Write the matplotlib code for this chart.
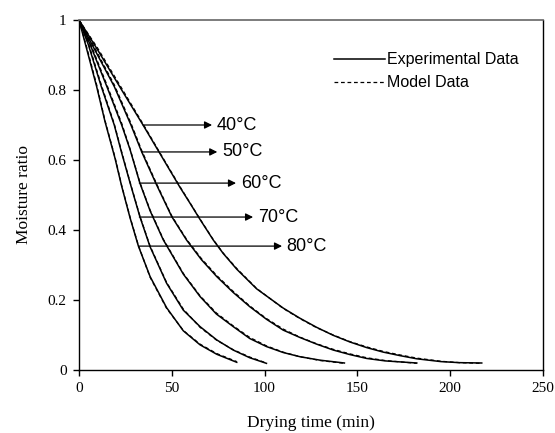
import matplotlib
matplotlib.use("Agg")
import matplotlib.pyplot as plt
from matplotlib.lines import Line2D

# drying curves (time in min, moisture ratio)
t40 = [0, 10, 23, 34.5, 45, 54.4, 60, 65, 72.4, 77.7, 85, 95.7, 110, 119, 128, 137, 146, 155, 164, 173, 182, 195, 205, 217]
mr40_exp = [1.0, 0.915, 0.80, 0.70, 0.606, 0.522, 0.475, 0.432, 0.371, 0.333, 0.288, 0.232, 0.177, 0.148, 0.122, 0.099, 0.08, 0.064, 0.051, 0.041, 0.032, 0.024, 0.021, 0.02]
mr40_mod = [1.0, 0.92, 0.805, 0.703, 0.608, 0.524, 0.476, 0.433, 0.372, 0.334, 0.29, 0.233, 0.176, 0.147, 0.121, 0.10, 0.081, 0.066, 0.053, 0.043, 0.034, 0.025, 0.021, 0.019]

t50 = [0, 7, 19, 28, 33.8, 41.8, 50, 58, 66, 74.2, 83, 92, 101, 110, 119, 128, 137, 146, 155, 165, 182]
mr50_exp = [1.0, 0.93, 0.81, 0.70, 0.623, 0.529, 0.438, 0.371, 0.315, 0.267, 0.222, 0.181, 0.145, 0.114, 0.093, 0.074, 0.057, 0.044, 0.033, 0.026, 0.02]
mr50_mod = [1.0, 0.935, 0.815, 0.705, 0.627, 0.532, 0.44, 0.373, 0.318, 0.27, 0.225, 0.183, 0.147, 0.117, 0.094, 0.075, 0.059, 0.046, 0.035, 0.027, 0.019]

t60 = [0, 6, 15, 23, 27.5, 32.8, 38.3, 45.4, 56.2, 65.2, 74, 83.1, 92, 101, 110, 119, 130, 143]
mr60_exp = [1.0, 0.93, 0.81, 0.70, 0.63, 0.534, 0.455, 0.372, 0.274, 0.21, 0.16, 0.124, 0.09, 0.067, 0.05, 0.038, 0.028, 0.02]
mr60_mod = [1.0, 0.935, 0.815, 0.705, 0.632, 0.536, 0.457, 0.374, 0.276, 0.212, 0.163, 0.126, 0.093, 0.069, 0.051, 0.038, 0.027, 0.019]

t70 = [0, 5, 12, 19, 23, 27.5, 32.8, 38.3, 47.2, 56.2, 65.2, 74.2, 83.1, 92, 101]
mr70_exp = [1.0, 0.93, 0.81, 0.70, 0.62, 0.535, 0.438, 0.352, 0.248, 0.171, 0.124, 0.086, 0.057, 0.035, 0.019]
mr70_mod = [1.0, 0.935, 0.815, 0.703, 0.623, 0.537, 0.44, 0.354, 0.25, 0.174, 0.122, 0.085, 0.058, 0.037, 0.02]

t80 = [0, 4, 9.5, 14, 19.4, 23, 27.5, 32, 38.3, 47.2, 56.2, 65.2, 74.2, 85]
mr80_exp = [1.0, 0.92, 0.81, 0.71, 0.605, 0.525, 0.435, 0.354, 0.267, 0.178, 0.112, 0.072, 0.045, 0.022]
mr80_mod = [1.0, 0.925, 0.815, 0.713, 0.608, 0.527, 0.437, 0.356, 0.265, 0.176, 0.113, 0.074, 0.047, 0.024]

labels = ["40°C", "50°C", "60°C", "70°C", "80°C"]
arrow_y = [0.70, 0.623, 0.534, 0.437, 0.354]
arrow_x0 = [34.5, 33.8, 32.5, 32.5, 32.5]
arrow_x1 = [71.7, 74.5, 84.6, 93.8, 109.4]

times = [t40, t50, t60, t70, t80]
exp_data = [mr40_exp, mr50_exp, mr60_exp, mr70_exp, mr80_exp]
mod_data = [mr40_mod, mr50_mod, mr60_mod, mr70_mod, mr80_mod]

serif = "Liberation Serif"
sans = "Liberation Sans"

fig = plt.figure(figsize=(5.55, 4.33), dpi=100)
ax = fig.add_axes([79 / 555, 63 / 433, 464 / 555, 350 / 433])

for t, e, m in zip(times, exp_data, mod_data):
    ax.plot(t, m, color="black", lw=0.9, ls=(0, (3, 2.2)))
    ax.plot(t, e, color="black", lw=1.1)

for lab, y, x0, x1 in zip(labels, arrow_y, arrow_x0, arrow_x1):
    ax.annotate("", xy=(x1, y), xytext=(x0, y),
                arrowprops=dict(arrowstyle="-|>", color="black", lw=0.9,
                                mutation_scale=11, shrinkA=0, shrinkB=0))
    ax.text(x1 + 2.5, y, lab, va="center", ha="left", fontsize=13,
            family=sans)

handles = [Line2D([], [], color="black", lw=1.1),
           Line2D([], [], color="black", lw=0.9, ls=(0, (3, 2.2)))]
ax.legend(handles, ["Experimental Data", "Model Data"], frameon=False,
          loc="upper left", bbox_to_anchor=(0.533, 0.93), borderpad=0,
          handlelength=3.2, handletextpad=0.12, labelspacing=0.5,
          prop={"family": sans, "size": 11.5})

ax.set_xlim(0, 250)
ax.set_ylim(0, 1)
ax.set_xticks([0, 50, 100, 150, 200, 250])
ax.set_yticks([0, 0.2, 0.4, 0.6, 0.8, 1])
ax.set_yticklabels(["0", "0.2", "0.4", "0.6", "0.8", "1"])
ax.tick_params(direction="out", length=4, width=1, labelsize=11, pad=5)
for lab in ax.get_xticklabels() + ax.get_yticklabels():
    lab.set_family(serif)

for side in ["left", "bottom", "right"]:
    ax.spines[side].set_color("black")
    ax.spines[side].set_linewidth(1)
ax.spines["top"].set_color("#666666")
ax.spines["top"].set_linewidth(1.2)

ax.set_xlabel("Drying time (min)", family=serif, fontsize=12.5, labelpad=14)
ax.set_ylabel("Moisture ratio", family=serif, fontsize=12.5, labelpad=11)

fig.savefig("out.png", dpi=100)
